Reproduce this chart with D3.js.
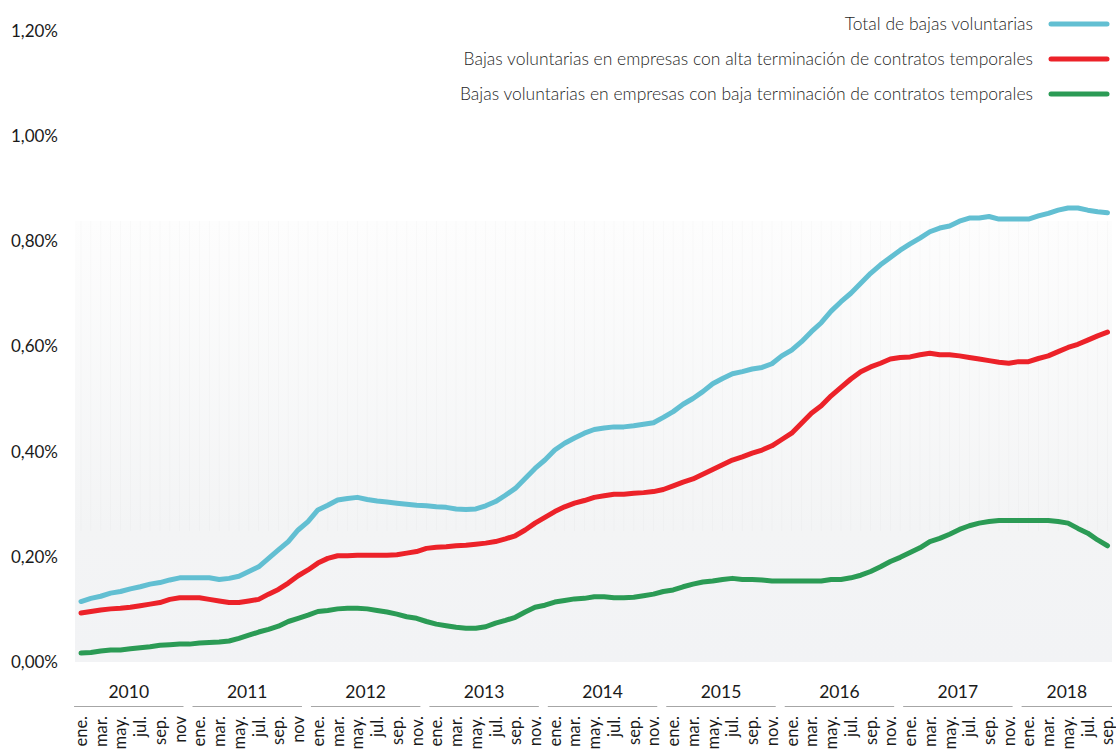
<!DOCTYPE html>
<html>
<head>
<meta charset="utf-8">
<script src="https://cdnjs.cloudflare.com/ajax/libs/d3/7.8.5/d3.min.js"></script>
<style>
  html, body { margin: 0; padding: 0; background: #fff; }
  svg { display: block; font-family: Lato, "Open Sans", sans-serif; }
</style>
</head>
<body>
<svg id="chart" width="1116" height="751"></svg>
<script>
// monthly series, ene. 2010 - sep. 2018 (values in %)
var years = [2010, 2011, 2012, 2013, 2014, 2015, 2016, 2017, 2018];
var monthNames = ["ene.", "feb.", "mar.", "abr.", "may.", "jun.", "jul.", "ago.", "sep.", "oct.", "nov.", "dic."];
var lastMonth = 8; // sep. 2018

var seriesNames = [
    "Total de bajas voluntarias",
    "Bajas voluntarias en empresas con alta terminación de contratos temporales",
    "Bajas voluntarias en empresas con baja terminación de contratos temporales"
];
var seriesColors = ["#62bfd2", "#ec2229", "#2b9b55"];

var totalBajas = [
    0.115, 0.121, 0.125, 0.131, 0.134, 0.139, 0.143, 0.148, 0.151, 0.156, 0.160, 0.160,
    0.160, 0.160, 0.157, 0.159, 0.163, 0.172, 0.181, 0.197, 0.213, 0.229, 0.251, 0.267,
    0.289, 0.298, 0.308, 0.311, 0.313, 0.309, 0.306, 0.304, 0.302, 0.300, 0.298, 0.297,
    0.295, 0.294, 0.291, 0.290, 0.291, 0.297, 0.305, 0.317, 0.330, 0.349, 0.368, 0.384,
    0.403, 0.416, 0.426, 0.435, 0.442, 0.445, 0.447, 0.447, 0.449, 0.452, 0.455, 0.465,
    0.476, 0.490, 0.501, 0.514, 0.529, 0.539, 0.548, 0.552, 0.557, 0.560, 0.567, 0.582,
    0.593, 0.609, 0.628, 0.645, 0.667, 0.685, 0.701, 0.720, 0.739, 0.755, 0.769, 0.783,
    0.795, 0.806, 0.818, 0.825, 0.829, 0.838, 0.844, 0.844, 0.847, 0.842, 0.842, 0.842,
    0.842, 0.848, 0.853, 0.859, 0.863, 0.863, 0.859, 0.856, 0.854
];
var altaTemporales = [
    0.093, 0.096, 0.099, 0.101, 0.102, 0.104, 0.107, 0.110, 0.113, 0.119, 0.122, 0.122,
    0.122, 0.119, 0.116, 0.113, 0.113, 0.116, 0.119, 0.129, 0.138, 0.150, 0.164, 0.175,
    0.188, 0.197, 0.202, 0.202, 0.203, 0.203, 0.203, 0.203, 0.204, 0.207, 0.210, 0.216,
    0.218, 0.219, 0.221, 0.222, 0.224, 0.226, 0.229, 0.234, 0.240, 0.251, 0.264, 0.275,
    0.286, 0.295, 0.302, 0.307, 0.313, 0.316, 0.319, 0.319, 0.321, 0.322, 0.324, 0.328,
    0.335, 0.342, 0.348, 0.357, 0.366, 0.375, 0.384, 0.390, 0.397, 0.403, 0.411, 0.423,
    0.435, 0.454, 0.473, 0.487, 0.506, 0.522, 0.538, 0.552, 0.561, 0.568, 0.576, 0.579,
    0.580, 0.584, 0.587, 0.584, 0.584, 0.582, 0.579, 0.576, 0.573, 0.570, 0.568, 0.571,
    0.571, 0.577, 0.582, 0.590, 0.598, 0.604, 0.612, 0.620, 0.627
];
var bajaTemporales = [
    0.017, 0.018, 0.021, 0.023, 0.023, 0.025, 0.027, 0.029, 0.032, 0.033, 0.034, 0.034,
    0.036, 0.037, 0.038, 0.040, 0.045, 0.051, 0.057, 0.062, 0.068, 0.077, 0.083, 0.089,
    0.096, 0.098, 0.101, 0.102, 0.102, 0.101, 0.098, 0.095, 0.091, 0.086, 0.083, 0.077,
    0.072, 0.069, 0.066, 0.064, 0.064, 0.067, 0.074, 0.079, 0.085, 0.095, 0.104, 0.108,
    0.114, 0.117, 0.120, 0.121, 0.124, 0.124, 0.122, 0.122, 0.123, 0.126, 0.129, 0.134,
    0.137, 0.143, 0.148, 0.152, 0.154, 0.157, 0.159, 0.157, 0.157, 0.156, 0.154, 0.154,
    0.154, 0.154, 0.154, 0.154, 0.157, 0.157, 0.160, 0.165, 0.172, 0.181, 0.191, 0.199,
    0.208, 0.217, 0.229, 0.235, 0.243, 0.252, 0.259, 0.264, 0.267, 0.269, 0.269, 0.269,
    0.269, 0.269, 0.269, 0.267, 0.264, 0.254, 0.245, 0.232, 0.221
];
var yTicks = [0, 0.2, 0.4, 0.6, 0.8, 1.0, 1.2];

var svg = d3.select("#chart");

var plot = { left: 75, right: 1112, top: 221, bottom: 662 };

// month keys
var months = [];
years.forEach(function (yr, yi) {
    for (var m = 0; m < 12; m++) {
        if (yi === years.length - 1 && m > lastMonth) break;
        months.push({ year: yr, month: m, key: yr + "-" + m });
    }
});

var x = d3.scalePoint()
    .domain(months.map(function (d) { return d.key; }))
    .range([81, 1107.5]);
var step = x.step();

var y = d3.scaleLinear()
    .domain([0, 1.2])
    .range([662, 30.8]);

var esLocale = d3.formatLocale({ decimal: ",", thousands: ".", grouping: [3], currency: ["", " €"] });
var fmt = esLocale.format(".2f");

// plot background (gradient, as in the original)
var defs = svg.append("defs");
var grad = defs.append("linearGradient")
    .attr("id", "bg")
    .attr("x1", 0).attr("y1", 0).attr("x2", 0).attr("y2", 1);
grad.append("stop").attr("offset", "0%").attr("stop-color", "#fdfdfd");
grad.append("stop").attr("offset", "70%").attr("stop-color", "#f3f4f5");
grad.append("stop").attr("offset", "100%").attr("stop-color", "#f2f3f5");

svg.append("rect")
    .attr("x", plot.left)
    .attr("y", plot.top)
    .attr("width", plot.right - plot.left)
    .attr("height", plot.bottom - plot.top)
    .attr("fill", "url(#bg)");

// faint month stripes in the upper part
svg.append("g")
    .selectAll("line")
    .data(months)
    .enter()
    .append("line")
    .attr("x1", function (d) { return x(d.key); })
    .attr("x2", function (d) { return x(d.key); })
    .attr("y1", plot.top)
    .attr("y2", 531)
    .attr("stroke", "#000")
    .attr("stroke-opacity", 0.018)
    .attr("stroke-width", 1);

// y axis
var yAxis = svg.append("g")
    .attr("transform", "translate(61,0)")
    .call(d3.axisLeft(y)
        .tickValues(yTicks)
        .tickSize(0)
        .tickPadding(3)
        .tickFormat(function (d) { return fmt(d) + "%"; }));
yAxis.select(".domain").remove();
yAxis.selectAll("text")
    .attr("font-family", "Lato, sans-serif")
    .attr("font-size", 17)
    .attr("fill", "#1a1a1a");

// lines
var allSeries = [totalBajas, altaTemporales, bajaTemporales];
var line = d3.line()
    .x(function (d, i) { return x(months[i].key); })
    .y(function (d) { return y(d); });

svg.append("g")
    .selectAll("path")
    .data(allSeries)
    .enter()
    .append("path")
    .attr("d", line)
    .attr("fill", "none")
    .attr("stroke", function (d, i) { return seriesColors[i]; })
    .attr("stroke-width", 5)
    .attr("stroke-linejoin", "round")
    .attr("stroke-linecap", "round");

// legend
var legend = svg.append("g");
var legendItems = legend.selectAll("g")
    .data(seriesNames)
    .enter()
    .append("g")
    .attr("transform", function (d, i) { return "translate(0," + (24 + i * 35) + ")"; });
legendItems.append("text")
    .attr("x", 1033)
    .attr("dy", "0.35em")
    .attr("text-anchor", "end")
    .attr("font-size", 17.5)
    .attr("font-weight", 300)
    .attr("fill", "#1f1f1f")
    .text(function (d) { return d; });
legendItems.append("line")
    .attr("x1", 1051)
    .attr("x2", 1107)
    .attr("stroke", function (d, i) { return seriesColors[i]; })
    .attr("stroke-width", 5)
    .attr("stroke-linecap", "round");

// x axis: months (odd ones) and year groups
var tickMonths = months.filter(function (d) { return d.month % 2 === 0; });
svg.append("g")
    .selectAll("text")
    .data(tickMonths)
    .enter()
    .append("text")
    .attr("transform", function (d) { return "translate(" + x(d.key) + ",716) rotate(-90)"; })
    .attr("dy", "0.36em")
    .attr("text-anchor", "end")
    .attr("font-size", 16.5)
    .attr("fill", "#1a1a1a")
    .text(function (d) {
        var t = monthNames[d.month];
        // the original drops the dot on "nov" for 2010 and 2011
        if (d.month === 10 && d.year < 2012) t = "nov";
        return t;
    });

var yearGroups = svg.append("g")
    .selectAll("g")
    .data(years)
    .enter()
    .append("g");

function yearSpan(yr) {
    var x0 = x(yr + "-0") - step / 2 - 2;
    var x1 = Math.min(x0 + 12 * step - 9, plot.right);
    return [x0, x1];
}

yearGroups.append("line")
    .attr("x1", function (d) { return yearSpan(d)[0]; })
    .attr("x2", function (d) { return yearSpan(d)[1]; })
    .attr("y1", 706.5)
    .attr("y2", 706.5)
    .attr("stroke", "#a6a6a6")
    .attr("stroke-width", 1);

yearGroups.append("text")
    .attr("x", function (d) { var s = yearSpan(d); return (s[0] + s[1]) / 2; })
    .attr("y", 692)
    .attr("dy", "0.35em")
    .attr("text-anchor", "middle")
    .attr("font-size", 17.5)
    .attr("fill", "#1a1a1a")
    .text(function (d) { return d; });
</script>
</body>
</html>
